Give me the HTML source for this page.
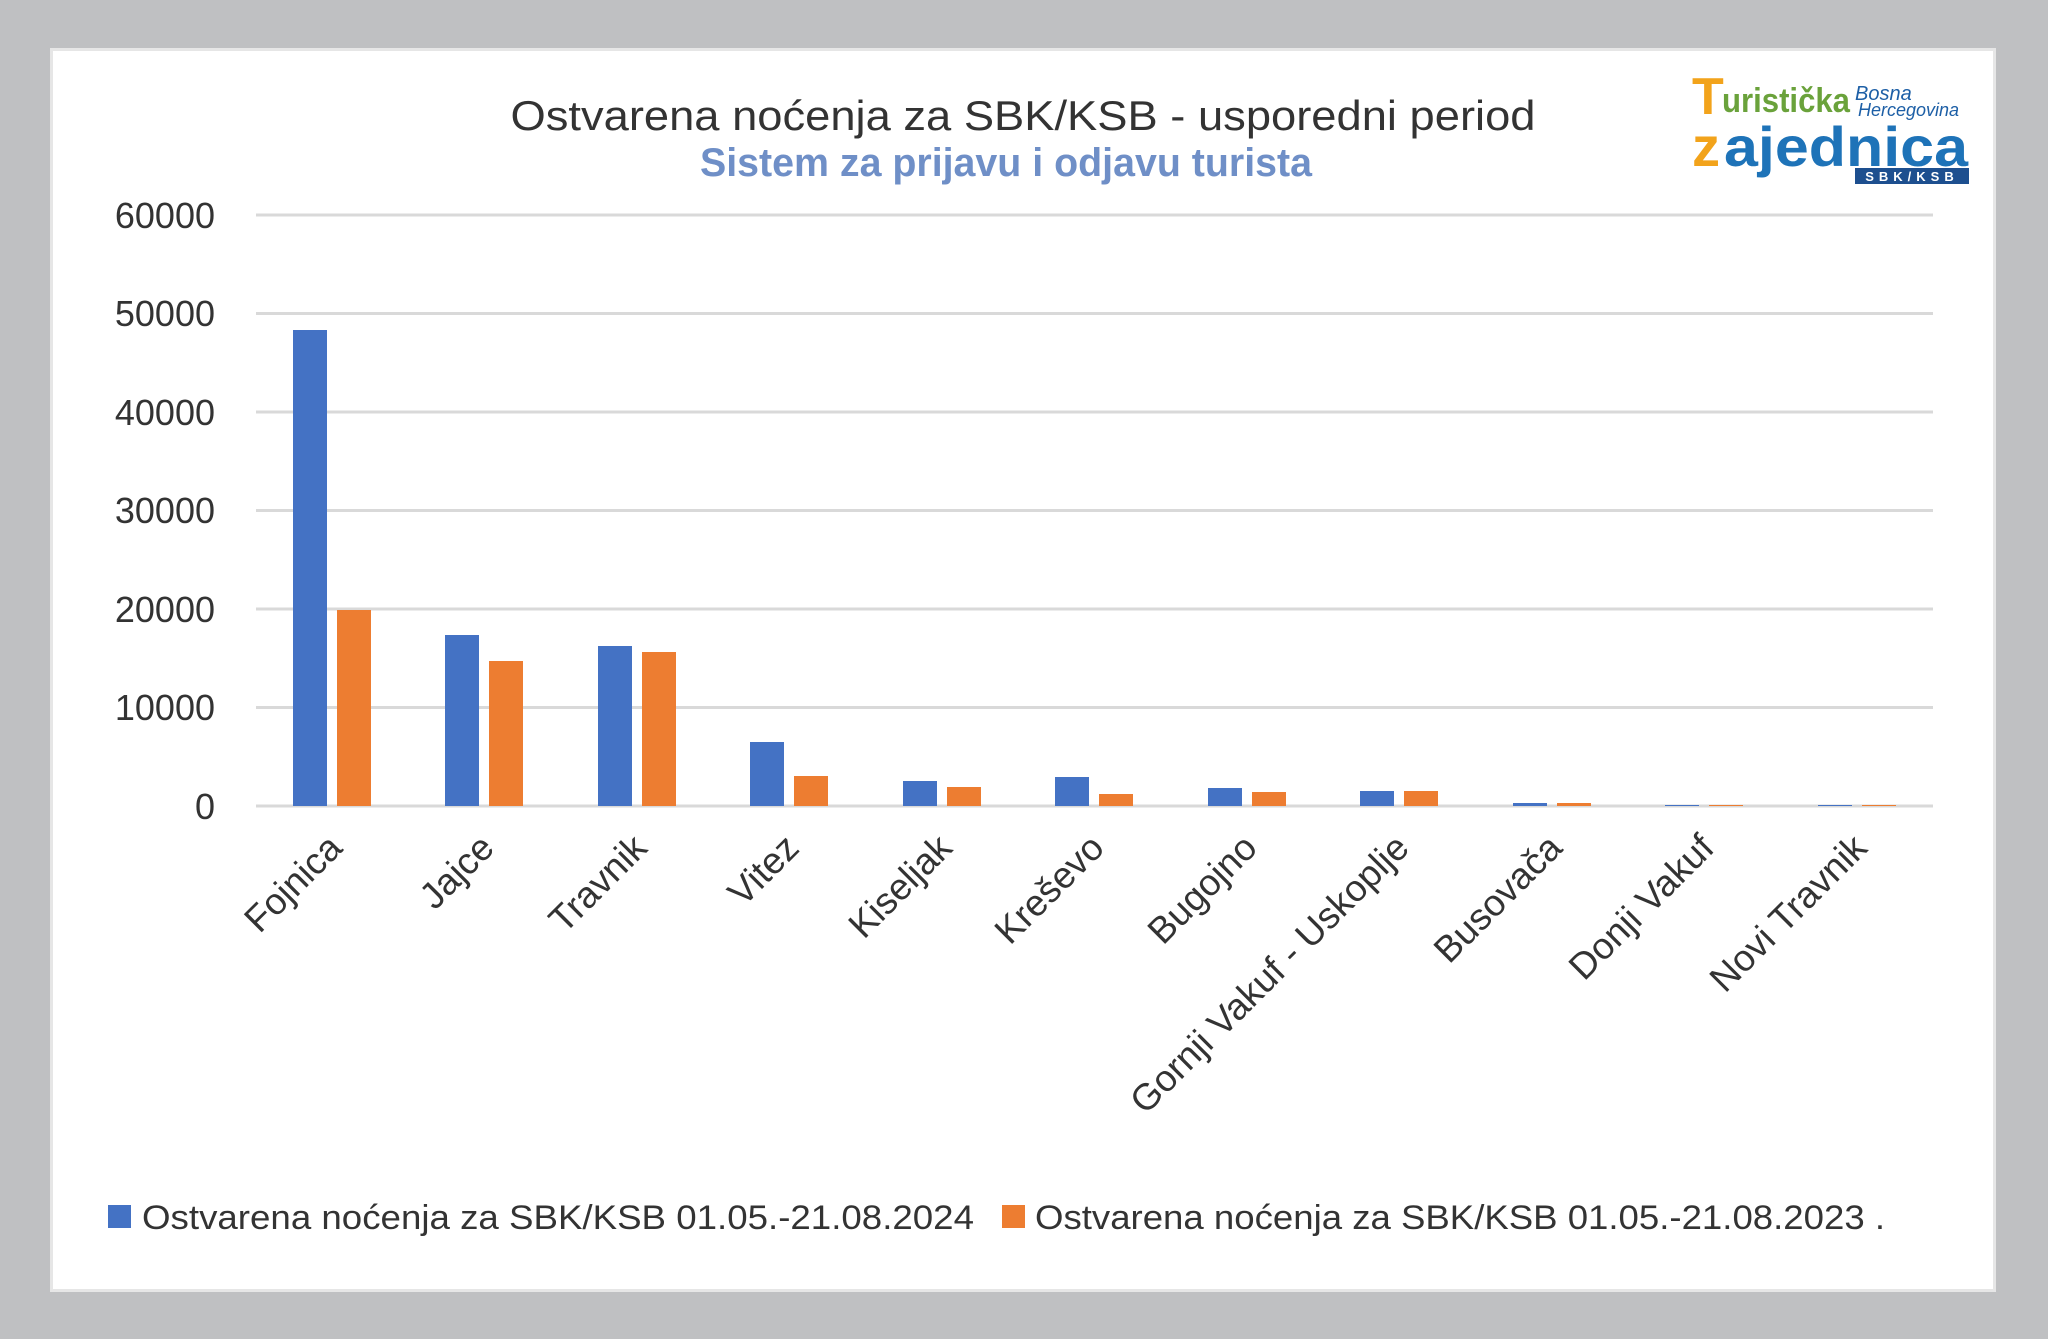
<!DOCTYPE html>
<html><head><meta charset="utf-8"><style>
html,body{margin:0;padding:0;background:#bfc0c2;}
svg{display:block}
text{font-family:"Liberation Sans",sans-serif;}
</style></head><body>
<svg width="2048" height="1339" viewBox="0 0 2048 1339" xmlns="http://www.w3.org/2000/svg">
<rect x="0" y="0" width="2048" height="1339" fill="#bfc0c2"/>
<rect x="50" y="48" width="1946" height="1244" fill="#e6e6e6"/>
<rect x="53" y="51" width="1940" height="1238" fill="#ffffff"/>
<text x="1023" y="130" font-size="42" fill="#333" text-anchor="middle" textLength="1025" lengthAdjust="spacingAndGlyphs">Ostvarena noćenja za SBK/KSB - usporedni period</text>
<text x="1006" y="176" font-size="40" font-weight="bold" fill="#6f8fc7" text-anchor="middle" textLength="612" lengthAdjust="spacingAndGlyphs">Sistem za prijavu i odjavu turista</text>
<!-- logo -->
<text x="1692" y="114" font-size="52" font-weight="bold" fill="#f2a31b">T</text>
<text x="1722" y="112" font-size="34" font-weight="bold" fill="#6aa23b" textLength="128" lengthAdjust="spacingAndGlyphs">uristička</text>
<text x="1855" y="100" font-size="20" font-style="italic" fill="#1d5fa6">Bosna</text>
<text x="1858" y="116" font-size="18" font-style="italic" fill="#1d5fa6">Hercegovina</text>
<text x="1692" y="166" font-size="56" font-weight="bold" fill="#f2a31b">z</text>
<text x="1724" y="166" font-size="56" font-weight="bold" fill="#1e73b8" textLength="244" lengthAdjust="spacingAndGlyphs">ajednica</text>
<rect x="1855" y="168" width="114" height="16" fill="#1d4f8f"/>
<text x="1912" y="181" font-size="13" font-weight="bold" fill="#fff" text-anchor="middle" letter-spacing="5">SBK/KSB</text>
<!-- grid -->
<g stroke="#d9d9d9" stroke-width="3">
<line x1="256" x2="1933" y1="215" y2="215"/>
<line x1="256" x2="1933" y1="313.5" y2="313.5"/>
<line x1="256" x2="1933" y1="412" y2="412"/>
<line x1="256" x2="1933" y1="510.5" y2="510.5"/>
<line x1="256" x2="1933" y1="609" y2="609"/>
<line x1="256" x2="1933" y1="707.5" y2="707.5"/>
<line x1="256" x2="1933" y1="806" y2="806"/>
</g>
<g font-size="36" fill="#333" text-anchor="end">
<text x="215" y="228">60000</text>
<text x="215" y="326">50000</text>
<text x="215" y="425">40000</text>
<text x="215" y="523">30000</text>
<text x="215" y="622">20000</text>
<text x="215" y="720">10000</text>
<text x="215" y="819">0</text>
</g>
<g fill="#4472c4">
<rect x="293" y="330" width="34" height="476"/>
<rect x="445" y="635" width="34" height="171"/>
<rect x="598" y="646" width="34" height="160"/>
<rect x="750" y="742" width="34" height="64"/>
<rect x="903" y="781" width="34" height="25"/>
<rect x="1055" y="777" width="34" height="29"/>
<rect x="1208" y="788" width="34" height="18"/>
<rect x="1360" y="791" width="34" height="15"/>
<rect x="1513" y="803" width="34" height="3"/>
<rect x="1665" y="805" width="34" height="1"/>
<rect x="1818" y="805" width="34" height="1"/>
</g>
<g fill="#ed7d31">
<rect x="337" y="610" width="34" height="196"/>
<rect x="489" y="661" width="34" height="145"/>
<rect x="642" y="652" width="34" height="154"/>
<rect x="794" y="776" width="34" height="30"/>
<rect x="947" y="787" width="34" height="19"/>
<rect x="1099" y="794" width="34" height="12"/>
<rect x="1252" y="792" width="34" height="14"/>
<rect x="1404" y="791" width="34" height="15"/>
<rect x="1557" y="803" width="34" height="3"/>
<rect x="1709" y="805" width="34" height="1"/>
<rect x="1862" y="805" width="34" height="1"/>
</g>
<g font-size="37" fill="#333" text-anchor="end">
<text transform="translate(344,850) rotate(-45)">Fojnica</text>
<text transform="translate(496,850) rotate(-45)">Jajce</text>
<text transform="translate(649,850) rotate(-45)">Travnik</text>
<text transform="translate(801,850) rotate(-45)">Vitez</text>
<text transform="translate(954,850) rotate(-45)">Kiseljak</text>
<text transform="translate(1106,850) rotate(-45)">Kreševo</text>
<text transform="translate(1259,850) rotate(-45)">Bugojno</text>
<text transform="translate(1411,850) rotate(-45)">Gornji Vakuf - Uskoplje</text>
<text transform="translate(1564,850) rotate(-45)">Busovača</text>
<text transform="translate(1716,850) rotate(-45)">Donji Vakuf</text>
<text transform="translate(1869,850) rotate(-45)">Novi Travnik</text>
</g>
<rect x="108" y="1205" width="23" height="23" fill="#4472c4"/>
<text x="142" y="1229" font-size="34" fill="#333" textLength="832" lengthAdjust="spacingAndGlyphs">Ostvarena noćenja za SBK/KSB 01.05.-21.08.2024</text>
<rect x="1002" y="1205" width="23" height="23" fill="#ed7d31"/>
<text x="1035" y="1229" font-size="34" fill="#333" textLength="850" lengthAdjust="spacingAndGlyphs">Ostvarena noćenja za SBK/KSB 01.05.-21.08.2023 .</text>
</svg>
</body></html>
